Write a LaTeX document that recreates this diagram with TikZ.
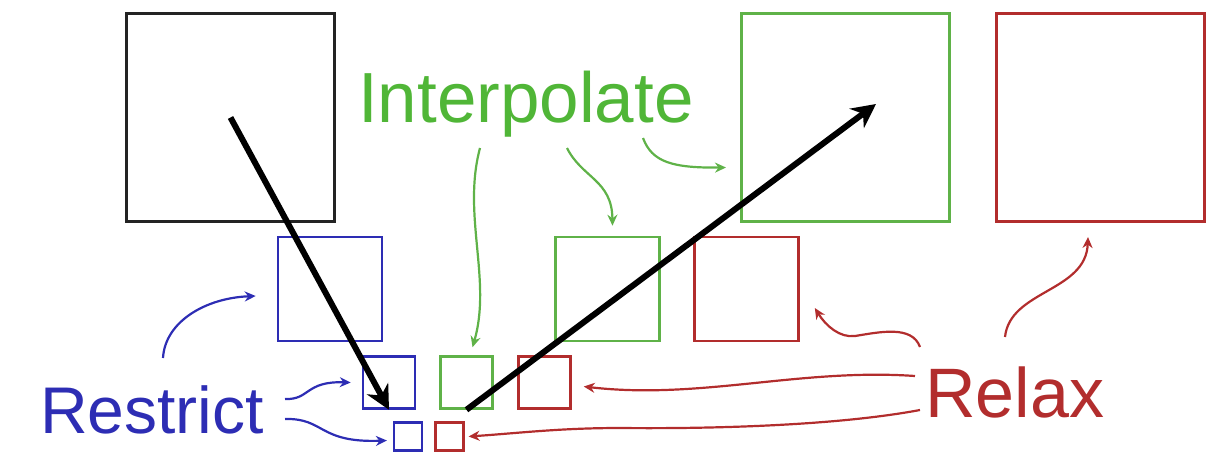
\documentclass[tikz,border=0pt]{standalone}
\usepackage{fontspec}
\setmainfont{Liberation Sans}
\usetikzlibrary{arrows.meta,calc}
\definecolor{cblue}{RGB}{45,45,180}
\definecolor{cgreen}{RGB}{95,178,72}
\definecolor{cgtext}{RGB}{80,182,55}
\definecolor{cred}{RGB}{178,45,45}
\definecolor{cblack}{RGB}{35,35,35}
\tikzset{
  box/.style={draw=#1, rectangle, inner sep=0pt, fill=none},
  big/.style={line width=3pt, minimum size=208pt},
  med/.style={line width=2.6pt, minimum size=104pt},
  sml/.style={line width=2.5pt, minimum size=52pt},
  tny/.style={line width=2.2pt, minimum size=28pt},
  lbl/.style={anchor=base west, inner sep=0pt, text=#1},
  thin/.style={draw=#1, line width=2.2pt, -{Stealth[length=11pt,width=10pt]}},
  bold/.style={draw=black, line width=6pt, -{Stealth[length=24pt,width=24pt]}}
}
\begin{document}
\begin{tikzpicture}[x=1pt,y=1pt]
\useasboundingbox (0,0) rectangle (1227,-456);
% boxes
\node[box=cblack,big] (bk) at (230.5,-117.5) {};
\node[box=cgreen,big] (gB) at (845.5,-117.5) {};
\node[box=cred,big] (rB) at (1100,-117.5) {};
\node[box=cblue,med] (bM) at (330,-289) {};
\node[box=cgreen,med] (gM) at (607.5,-289) {};
\node[box=cred,med] (rM) at (746.5,-289) {};
\node[box=cblue,sml] (bS) at (389,-382.5) {};
\node[box=cgreen,sml] (gS) at (466.5,-382.5) {};
\node[box=cred,sml] (rS) at (544.5,-382.5) {};
\node[box=cblue,tny] (bT) at (408,-436.5) {};
\node[box=cred,tny] (rT) at (449.5,-436.5) {};
% labels
\node[lbl=cblue,font=\fontsize{66}{70}\selectfont] (restrict) at (40,-433) {Restrict};
\node[lbl=cgtext,font=\fontsize{71}{75}\selectfont] (interp) at (358,-122) {Interpolate};
\node[lbl=cred,font=\fontsize{70}{74}\selectfont] (relax) at (925,-417) {Relax};
% free ends of thin arrows
\coordinate (rs1) at (163,-358);
\coordinate (rs2) at (285,-399);
\coordinate (rs3) at (285,-419);
\coordinate (ip1) at (480,-148);
\coordinate (ip2) at (567,-148);
\coordinate (ip3) at (643,-138);
\coordinate (rx1) at (920,-347);
\coordinate (rx2) at (1005,-337);
\coordinate (rx3) at (915,-376);
\coordinate (rx4) at (920,-410);
\coordinate (gtip) at (876,-104);
% black arrows
\draw[bold] (bk.center) -- (bS.south);
\draw[bold] (gS.south) -- (gtip);
% blue arrows
\draw[thin=cblue] (rs1) .. controls (165,-322) and (205,-298) .. ([shift={(-21pt,-7pt)}]bM.west);
\draw[thin=cblue] (rs2) .. controls (310,-400) and (305,-381) .. ([xshift=-11pt]bS.west);
\draw[thin=cblue] (rs3) .. controls (325,-418) and (318,-443) .. ([shift={(-6pt,-4pt)}]bT.west);
% green arrows
\draw[thin=cgreen] (ip1) .. controls (462,-215) and (492,-280) .. ([shift={(6pt,8pt)}]gS.north);
\draw[thin=cgreen] (ip2) .. controls (582,-178) and (612,-180) .. ([shift={(5pt,10pt)}]gM.north);
\draw[thin=cgreen] (ip3) .. controls (652,-162) and (672,-168) .. ([shift={(-14pt,-50pt)}]gB.west);
% red arrows
\draw[thin=cred] (rx1) .. controls (912,-325) and (880,-332) .. (855,-336) .. controls (840,-338) and (826,-326) .. ([shift={(15pt,-19pt)}]rM.east);
\draw[thin=cred] (rx2) .. controls (1010,-290) and (1086,-292) .. ([shift={(-12pt,-14pt)}]rB.south);
\draw[thin=cred] (rx3) .. controls (800,-368) and (700,-400) .. ([xshift=12pt,yshift=-4pt]rS.east);
\draw[thin=cred] (rx4) .. controls (840,-425) and (720,-429) .. (620,-428) .. controls (560,-428) and (520,-433) .. ([xshift=4pt]rT.east);
\end{tikzpicture}
\end{document}
